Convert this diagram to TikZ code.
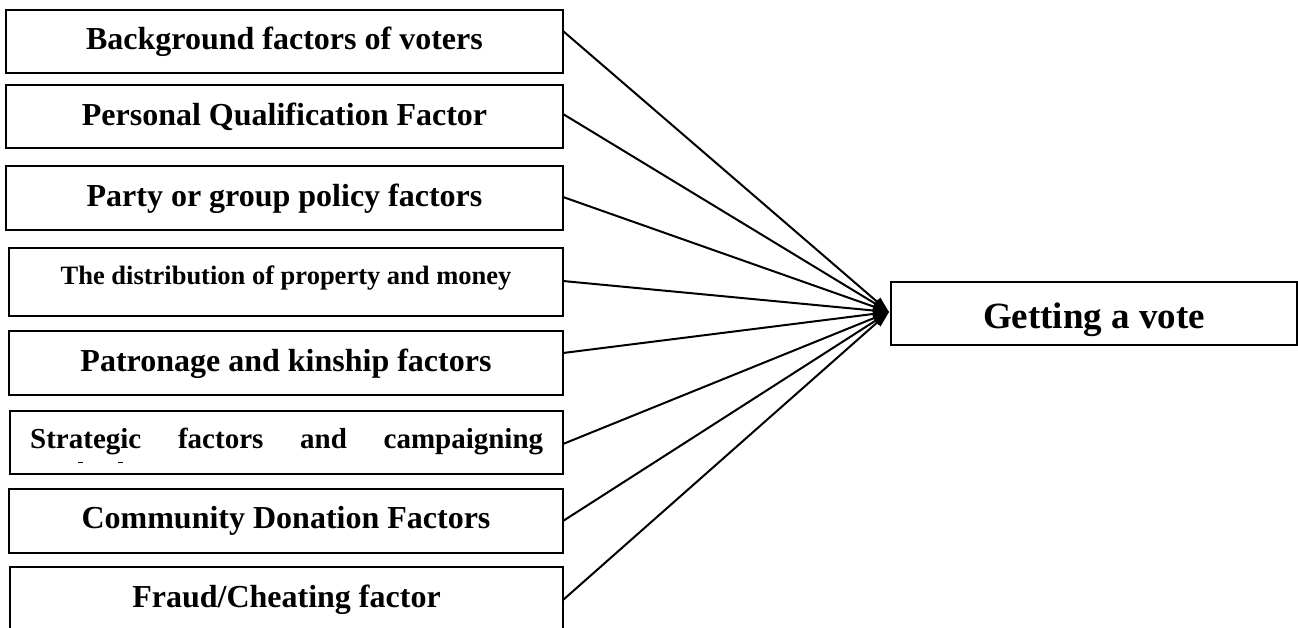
\documentclass[tikz,border=0pt]{standalone}
\usepackage{fontspec}
\setmainfont{Liberation Serif}
\usetikzlibrary{arrows.meta,calc}
\begin{document}
\begin{tikzpicture}[x=1pt,y=-1pt,
  box/.style={draw=black,line width=1.7pt,rectangle,anchor=north west,inner sep=0pt,outer sep=0pt},
  lbl/.style={anchor=base,inner sep=0pt,font=\bfseries\fontsize{32}{36}\selectfont},
  conn/.style={line width=2pt,-{Triangle[length=16pt,width=10pt]}}]
\useasboundingbox (0,0) rectangle (1298,628);
\fill[white] (0,0) rectangle (1298,628);
% left boxes
\node[box,minimum width=557pt,minimum height=63pt] (b1) at (6,10) {};
\node[box,minimum width=557pt,minimum height=63pt] (b2) at (6,85) {};
\node[box,minimum width=557pt,minimum height=64pt] (b3) at (6,166) {};
\node[box,minimum width=554pt,minimum height=68pt] (b4) at (9,248) {};
\node[box,minimum width=554pt,minimum height=64pt] (b5) at (9,331) {};
\node[box,minimum width=553pt,minimum height=63pt] (b6) at (10,411) {};
\node[box,minimum width=554pt,minimum height=64pt] (b7) at (9,489) {};
\node[box,minimum width=553pt,minimum height=72pt] (b8) at (10,567) {};
% target box
\node[box,minimum width=406pt,minimum height=63pt] (g) at (891,282) {};
% labels
\node[lbl] (t1) at ($(b1.north)+(0,40)$) {Background factors of voters};
\node[lbl] (t2) at ($(b2.north)+(0,40.5)$) {Personal Qualification Factor};
\node[lbl] (t3) at ($(b3.north)+(0,40.5)$) {Party or group policy factors};
\node[lbl,font=\bfseries\fontsize{26.5}{30}\selectfont] (t4) at ($(b4.north)+(0,36)$) {The distribution of property and money};
\node[lbl] (t5) at ($(b5.north)+(0,40.5)$) {Patronage and kinship factors};
\node[lbl,anchor=base west,font=\bfseries\fontsize{29}{32}\selectfont] (t6) at (30,448.3) {\makebox[513pt][s]{Strategic factors and campaigning}};
\node[lbl] (t7) at ($(b7.north)+(0,39)$) {Community Donation Factors};
\node[lbl] (t8) at ($(b8.north)+(0,40)$) {Fraud/Cheating factor};
\node[lbl,font=\bfseries\fontsize{37}{40}\selectfont] (tg) at ($(g.north)+(0,46)$) {Getting a vote};
% clipped remnants of the second text line in box 6
\fill (78,461.5) rectangle (83,463);
\fill (118,461.5) rectangle (123,463);
% connector ends
\coordinate (tip) at ($(g.west)+(-2,-1.5)$);
\coordinate (s1) at ($(b1.north east)+(0,21)$);
\coordinate (s2) at ($(b2.north east)+(0,29)$);
\coordinate (s3) at ($(b3.north east)+(0,31)$);
\coordinate (s4) at ($(b4.north east)+(0,33)$);
\coordinate (s5) at ($(b5.north east)+(0,22)$);
\coordinate (s6) at ($(b6.north east)+(0,33)$);
\coordinate (s7) at ($(b7.north east)+(0,32)$);
\coordinate (s8) at ($(b8.north east)+(0,33)$);
\foreach \s in {s1,s2,s3,s4,s5,s6,s7,s8}{
  \draw[conn] (\s) -- (tip);
}
\end{tikzpicture}
\end{document}
